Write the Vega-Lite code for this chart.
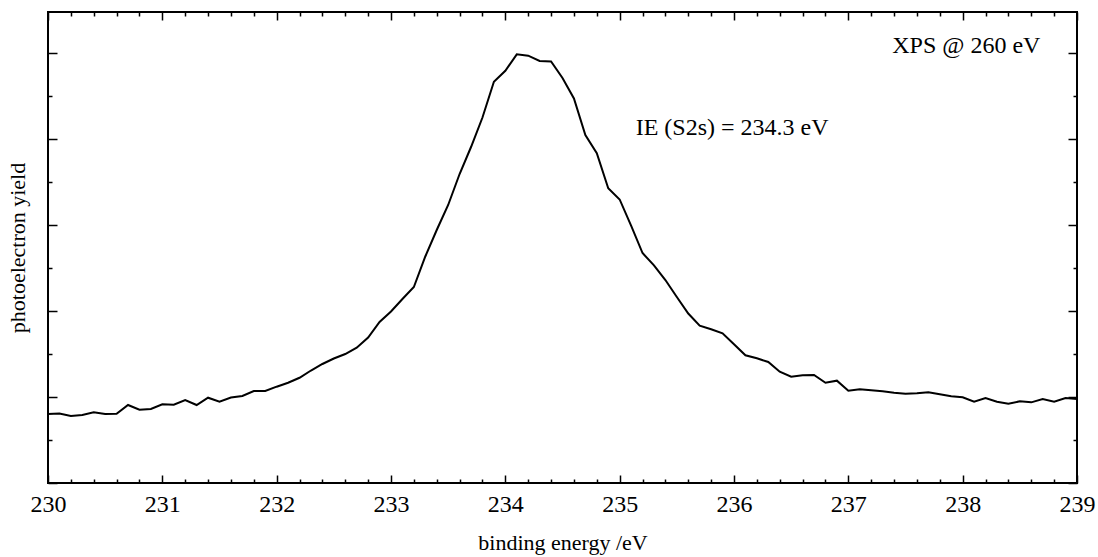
{
  "$schema": "https://vega.github.io/schema/vega-lite/v6.json",
  "width": 1029,
  "height": 471,
  "autosize": "none",
  "padding": {"left": 48, "top": 12, "right": 21, "bottom": 74},
  "background": "white",
  "config": {
    "view": {"stroke": "black", "strokeWidth": 2},
    "font": "'Liberation Serif', 'Times New Roman', Times, serif",
    "axis": {"domain": false, "grid": false, "tickColor": "black", "tickWidth": 1.5, "labelColor": "black", "titleColor": "black", "labelFont": "'Liberation Serif', 'Times New Roman', Times, serif", "titleFont": "'Liberation Serif', 'Times New Roman', Times, serif", "titleFontWeight": "normal"}
  },
  "datasets": {
    "spectrum": [
      {"energy": 230.0, "yield": 802}, {"energy": 230.1, "yield": 808}, {"energy": 230.2, "yield": 779}, {"energy": 230.3, "yield": 791},
      {"energy": 230.4, "yield": 822}, {"energy": 230.5, "yield": 802}, {"energy": 230.6, "yield": 806}, {"energy": 230.7, "yield": 907},
      {"energy": 230.8, "yield": 852}, {"energy": 230.9, "yield": 860}, {"energy": 231.0, "yield": 915}, {"energy": 231.1, "yield": 910},
      {"energy": 231.2, "yield": 965}, {"energy": 231.3, "yield": 907}, {"energy": 231.4, "yield": 992}, {"energy": 231.5, "yield": 945},
      {"energy": 231.6, "yield": 994}, {"energy": 231.7, "yield": 1012}, {"energy": 231.8, "yield": 1070}, {"energy": 231.9, "yield": 1070},
      {"energy": 232.0, "yield": 1120}, {"energy": 232.1, "yield": 1166}, {"energy": 232.2, "yield": 1224}, {"energy": 232.3, "yield": 1308},
      {"energy": 232.4, "yield": 1384}, {"energy": 232.5, "yield": 1448}, {"energy": 232.6, "yield": 1500}, {"energy": 232.7, "yield": 1573},
      {"energy": 232.8, "yield": 1692}, {"energy": 232.9, "yield": 1872}, {"energy": 233.0, "yield": 1994}, {"energy": 233.1, "yield": 2140},
      {"energy": 233.2, "yield": 2279}, {"energy": 233.3, "yield": 2634}, {"energy": 233.4, "yield": 2942}, {"energy": 233.5, "yield": 3233},
      {"energy": 233.6, "yield": 3593}, {"energy": 233.7, "yield": 3907}, {"energy": 233.8, "yield": 4250}, {"energy": 233.9, "yield": 4666},
      {"energy": 234.0, "yield": 4794}, {"energy": 234.1, "yield": 4985}, {"energy": 234.2, "yield": 4969}, {"energy": 234.3, "yield": 4907},
      {"energy": 234.4, "yield": 4901}, {"energy": 234.5, "yield": 4709}, {"energy": 234.6, "yield": 4471}, {"energy": 234.7, "yield": 4047},
      {"energy": 234.8, "yield": 3834}, {"energy": 234.9, "yield": 3427}, {"energy": 235.0, "yield": 3297}, {"energy": 235.1, "yield": 2994},
      {"energy": 235.2, "yield": 2674}, {"energy": 235.3, "yield": 2531}, {"energy": 235.4, "yield": 2360}, {"energy": 235.5, "yield": 2163},
      {"energy": 235.6, "yield": 1971}, {"energy": 235.7, "yield": 1830}, {"energy": 235.8, "yield": 1787}, {"energy": 235.9, "yield": 1741},
      {"energy": 236.0, "yield": 1613}, {"energy": 236.1, "yield": 1485}, {"energy": 236.2, "yield": 1450}, {"energy": 236.3, "yield": 1407},
      {"energy": 236.4, "yield": 1294}, {"energy": 236.5, "yield": 1236}, {"energy": 236.6, "yield": 1252}, {"energy": 236.7, "yield": 1256},
      {"energy": 236.8, "yield": 1166}, {"energy": 236.9, "yield": 1190}, {"energy": 237.0, "yield": 1073}, {"energy": 237.1, "yield": 1090},
      {"energy": 237.2, "yield": 1078}, {"energy": 237.3, "yield": 1066}, {"energy": 237.4, "yield": 1050}, {"energy": 237.5, "yield": 1038},
      {"energy": 237.6, "yield": 1043}, {"energy": 237.7, "yield": 1055}, {"energy": 237.8, "yield": 1031}, {"energy": 237.9, "yield": 1008},
      {"energy": 238.0, "yield": 997}, {"energy": 238.1, "yield": 945}, {"energy": 238.2, "yield": 988}, {"energy": 238.3, "yield": 945},
      {"energy": 238.4, "yield": 922}, {"energy": 238.5, "yield": 950}, {"energy": 238.6, "yield": 938}, {"energy": 238.7, "yield": 977},
      {"energy": 238.8, "yield": 945}, {"energy": 238.9, "yield": 988}, {"energy": 239.0, "yield": 977}
    ],
    "noteRight": [{"energy": 238.68, "yield": 5000, "label": "XPS @ 260 eV"}],
    "noteLeft": [{"energy": 235.14, "yield": 4050, "label": "IE (S2s) = 234.3 eV"}]
  },
  "resolve": {"axis": {"x": "independent", "y": "independent"}},
  "layer": [
    {
      "data": {"name": "spectrum"},
      "mark": {"type": "line", "color": "black", "strokeWidth": 2},
      "encoding": {
        "x": {"field": "energy", "type": "quantitative", "scale": {"domain": [230, 239], "nice": false, "zero": false},
              "axis": {"orient": "bottom", "values": [230, 231, 232, 233, 234, 235, 236, 237, 238, 239], "tickSize": -8, "labelFontSize": 24, "labelPadding": 17, "labelFlush": false, "format": "d", "title": "binding energy /eV", "titleFontSize": 22, "titlePadding": 16}},
        "y": {"field": "yield", "type": "quantitative", "scale": {"domain": [0, 5477], "nice": false, "zero": false},
              "axis": {"orient": "left", "values": [0, 1000, 2000, 3000, 4000, 5000], "tickSize": -9, "labels": false, "title": "photoelectron yield", "titleFontSize": 22, "titlePadding": 18}}
      }
    },
    {
      "data": {"name": "spectrum"},
      "mark": {"type": "line", "opacity": 0},
      "encoding": {
        "x": {"field": "energy", "type": "quantitative", "axis": {"orient": "top", "values": [230, 231, 232, 233, 234, 235, 236, 237, 238, 239], "tickSize": -8, "labels": false, "title": null}},
        "y": {"field": "yield", "type": "quantitative", "axis": {"orient": "right", "values": [0, 1000, 2000, 3000, 4000, 5000], "tickSize": -9, "labels": false, "title": null}}
      }
    },
    {
      "data": {"name": "spectrum"},
      "mark": {"type": "line", "opacity": 0},
      "encoding": {
        "x": {"field": "energy", "type": "quantitative", "axis": {"orient": "bottom", "values": [230.2, 230.4, 230.6, 230.8, 231.2, 231.4, 231.6, 231.8, 232.2, 232.4, 232.6, 232.8, 233.2, 233.4, 233.6, 233.8, 234.2, 234.4, 234.6, 234.8, 235.2, 235.4, 235.6, 235.8, 236.2, 236.4, 236.6, 236.8, 237.2, 237.4, 237.6, 237.8, 238.2, 238.4, 238.6, 238.8], "tickSize": -4, "labels": false, "title": null}},
        "y": {"field": "yield", "type": "quantitative", "axis": {"orient": "left", "values": [500, 1500, 2500, 3500, 4500], "tickSize": -4, "labels": false, "title": null}}
      }
    },
    {
      "data": {"name": "spectrum"},
      "mark": {"type": "line", "opacity": 0},
      "encoding": {
        "x": {"field": "energy", "type": "quantitative", "axis": {"orient": "top", "values": [230.2, 230.4, 230.6, 230.8, 231.2, 231.4, 231.6, 231.8, 232.2, 232.4, 232.6, 232.8, 233.2, 233.4, 233.6, 233.8, 234.2, 234.4, 234.6, 234.8, 235.2, 235.4, 235.6, 235.8, 236.2, 236.4, 236.6, 236.8, 237.2, 237.4, 237.6, 237.8, 238.2, 238.4, 238.6, 238.8], "tickSize": -4, "labels": false, "title": null}},
        "y": {"field": "yield", "type": "quantitative", "axis": {"orient": "right", "values": [500, 1500, 2500, 3500, 4500], "tickSize": -4, "labels": false, "title": null}}
      }
    },
    {
      "data": {"name": "noteRight"},
      "mark": {"type": "text", "align": "right", "baseline": "alphabetic", "fontSize": 24, "color": "black"},
      "encoding": {
        "x": {"field": "energy", "type": "quantitative", "axis": null},
        "y": {"field": "yield", "type": "quantitative", "axis": null},
        "text": {"field": "label"}
      }
    },
    {
      "data": {"name": "noteLeft"},
      "mark": {"type": "text", "align": "left", "baseline": "alphabetic", "fontSize": 24, "color": "black"},
      "encoding": {
        "x": {"field": "energy", "type": "quantitative", "axis": null},
        "y": {"field": "yield", "type": "quantitative", "axis": null},
        "text": {"field": "label"}
      }
    }
  ]
}
